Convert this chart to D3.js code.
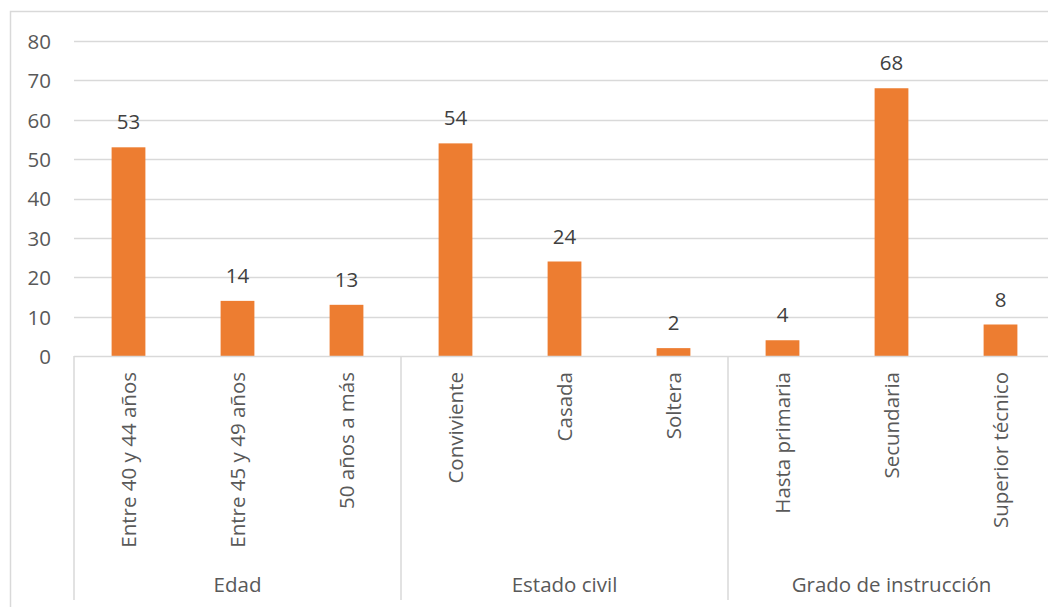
<!DOCTYPE html>
<html>
<head>
<meta charset="utf-8">
<script src="https://cdn.jsdelivr.net/npm/d3@7"></script>
<style>
  html, body { margin: 0; padding: 0; background: #fff; }
  svg { display: block; }
  text { font-family: "Open Sans", "Noto Sans", sans-serif; }
</style>
</head>
<body>
<svg id="chart" width="1048" height="607"></svg>
<script>
const groups = ["Edad", "Estado civil", "Grado de instrucción"];
const categories = ["Entre 40 y 44 años", "Entre 45 y 49 años", "50 años a más",
                    "Conviviente", "Casada", "Soltera",
                    "Hasta primaria", "Secundaria", "Superior técnico"];
const categoryGroup = ["Edad", "Edad", "Edad",
                       "Estado civil", "Estado civil", "Estado civil",
                       "Grado de instrucción", "Grado de instrucción", "Grado de instrucción"];
const values = [53, 14, 13, 54, 24, 2, 4, 68, 8];
const yTicks = [0, 10, 20, 30, 40, 50, 60, 70, 80];

(function () {
const svg = d3.select("#chart");
const W = 1048;
const pLeft = 74, pRight = 1055, pTop = 41, pBottom = 356;
const fontSize = 20.5;

// outer border
svg.append("rect")
  .attr("x", 10.5).attr("y", 11.5)
  .attr("width", 1100).attr("height", 700)
  .attr("fill", "none").attr("stroke", "#D9D9D9").attr("stroke-width", 1.5);

const x = d3.scaleBand().domain(categories).range([pLeft, pRight]).paddingInner(0).paddingOuter(0);
const y = d3.scaleLinear().domain([0, 80]).range([pBottom, pTop]);

// gridlines
svg.append("g").selectAll("line").data(yTicks.filter(t => t > 0)).join("line")
  .attr("x1", pLeft).attr("x2", W)
  .attr("y1", d => Math.round(y(d)) + 0.5).attr("y2", d => Math.round(y(d)) + 0.5)
  .attr("stroke", "#D9D9D9").attr("stroke-width", 1.3);

// y axis labels via d3 axis
const yAxis = d3.axisLeft(y).tickValues(yTicks).tickSize(0).tickPadding(0);
const gy = svg.append("g").attr("transform", "translate(51,0)").call(yAxis);
gy.select(".domain").remove();
gy.selectAll("text")
  .attr("font-family", "\"Open Sans\", sans-serif")
  .attr("font-size", fontSize)
  .attr("fill", "#595959")
  .attr("x", 0)
  .attr("dy", "0.36em");

// bars
const bw = x.bandwidth() * 0.31;
svg.append("g").selectAll("rect").data(categories).join("rect")
  .attr("x", d => x(d) + x.bandwidth() / 2 - bw / 2)
  .attr("width", bw)
  .attr("y", (d, i) => y(values[i]))
  .attr("height", (d, i) => y(0) - y(values[i]))
  .attr("fill", "#ED7D31");

// data labels
svg.append("g").selectAll("text").data(categories).join("text")
  .attr("x", d => x(d) + x.bandwidth() / 2)
  .attr("y", (d, i) => y(values[i]) - 18)
  .attr("text-anchor", "middle")
  .attr("font-size", fontSize)
  .attr("fill", "#404040")
  .text((d, i) => values[i]);

// x axis line
svg.append("line")
  .attr("x1", pLeft).attr("x2", W)
  .attr("y1", pBottom + 0.5).attr("y2", pBottom + 0.5)
  .attr("stroke", "#D9D9D9").attr("stroke-width", 1.5);

// group separators
const groupStarts = groups.map(g => categories.find((c, i) => categoryGroup[i] === g));
const sepX = groupStarts.map(c => x(c)).concat([pRight]);
svg.append("g").selectAll("line").data(sepX).join("line")
  .attr("x1", d => d).attr("x2", d => d)
  .attr("y1", pBottom).attr("y2", 600)
  .attr("stroke", "#D9D9D9").attr("stroke-width", 1.5);

// category labels
svg.append("g").selectAll("text").data(categories).join("text")
  .attr("transform", d => `translate(${x(d) + x.bandwidth() / 2},372) rotate(-90)`)
  .attr("text-anchor", "end")
  .attr("dy", "0.35em")
  .attr("font-size", fontSize)
  .attr("fill", "#595959")
  .text(d => d);

// group labels
svg.append("g").selectAll("text").data(groups).join("text")
  .attr("x", g => {
    const cs = categories.filter((c, i) => categoryGroup[i] === g);
    return (x(cs[0]) + x(cs[cs.length - 1]) + x.bandwidth()) / 2;
  })
  .attr("y", 585)
  .attr("dy", "0.35em")
  .attr("text-anchor", "middle")
  .attr("font-size", fontSize)
  .attr("fill", "#595959")
  .text(g => g);
})();
</script>
</body>
</html>
